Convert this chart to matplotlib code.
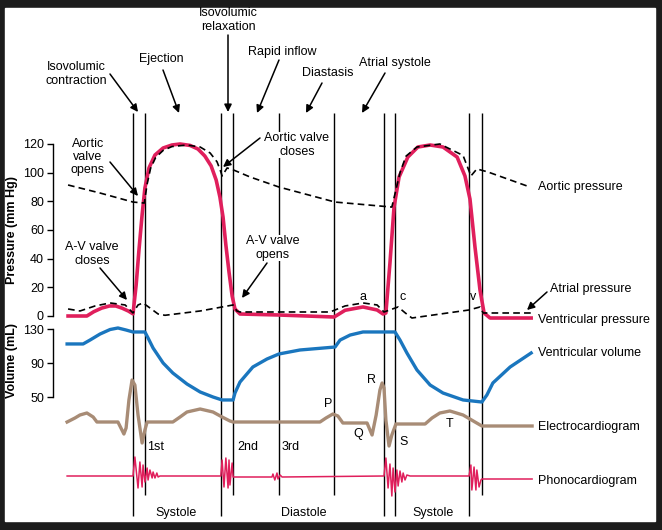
import matplotlib
matplotlib.use('Agg')
import matplotlib.pyplot as plt
from matplotlib.patches import Rectangle

plt.rcParams['font.family'] = ['Liberation Sans', 'DejaVu Sans']

# %% Data  (time in ms, 0 = first A-V valve closure)
event_times = [0, 38, 280, 319, 465, 641, 800, 835, 1071, 1112]
event_long = [True, False, True, False, False, False, True, True, True, False]

vent_p_t = [-207, -147, -125, -100, -75, -55, -35, -15, 0,
            10, 19, 29, 38, 51, 70, 96, 124, 150,
            182, 207, 229, 249, 265, 277, 287, 296, 306, 316, 325, 341, 465, 641,
            676, 733, 778, 797,
            806, 819, 832, 848, 876, 908, 947, 988, 1033, 1058, 1074, 1090, 1106, 1119, 1138, 1269]
vent_p = [0, 0, 3, 5.5, 7, 7, 5.5, 3.5, 1.5,
          21.6, 46, 70.5, 89.3, 103.3, 112.3, 117.2, 119.3, 120,
          119, 116.5, 111.6, 104.7, 94.9, 83, 69, 49.5, 30.7, 14, 4.9, 1.4, 0.7, -0.7,
          4, 6.3, 4.2, 1.4,
          2.1, 37, 76, 97, 110.9, 117.9, 119.3, 117.9, 110.9, 97.7, 81.6, 48.1, 18.1, 2.1, -1.4, -1.4]

atrial_t = [-207, -169, -121, -73, -25, 0, 16, 32, 54, 80, 102, 214, 319, 331, 341, 628,
            676, 733, 778, 800, 845, 868, 889, 1071, 1106, 1116, 1269]
atrial_p = [4.9, 3.5, 7, 9.1, 7.7, 2.1, 7.7, 9.1, 5.6, 1.4, 0.5, 3.5, 7.7, 3.5, 2.8, 2.8,
            7, 9.1, 7.7, 2.8, 6.3, 2.1, -1.4, 4.2, 6.3, 2.1, 2.1]

aortic_t = [-207, -105, 0, 36, 45, 56, 72, 96, 124, 172, 214, 246, 268, 280, 284, 300, 319, 373, 465,
            644,
            825, 838, 851, 870, 905, 978, 1052, 1071, 1077, 1096, 1131, 1265]
aortic_p = [91.4, 85.8, 79.5, 78.8, 92, 103, 110.5, 115.5, 118.2, 119.3, 117.9, 113.7, 107.5, 100.5,
            97.7, 103.3, 102, 97, 90, 79.5,
            76, 88, 100, 111.5, 117.9, 120, 112, 101.2, 97.7, 102.6, 100.5, 90]

volume_t = [-210, -159, -137, -105, -73, -48, -22, 0, 38, 48, 64, 96, 127, 172, 214, 255, 284, 319,
            325, 341, 382, 427, 465, 532, 644,
            660, 692, 733, 800, 835, 851, 873, 905, 947, 988, 1052, 1112, 1128, 1147, 1202, 1269]
volume_ml = [112.4, 112.4, 117, 124.1, 129.4, 131.2, 128.8, 126.5, 126.5, 119.4, 107.6, 90, 78.2, 65.3,
             55.9, 50, 46.5, 46.5,
             54.7, 67.6, 85.3, 94.7, 100.6, 105.3, 108.8,
             117, 122.9, 126.5, 126.5, 126.5, 117, 101.8, 81.8, 64.1, 54.7, 46.5, 44.1, 52.4, 66.5, 85.3,
             101.8]

ecg_t = [-210, -185, -169, -147, -127, -115, -48, -29, -22, -13, -3, 6, 16, 29, 38, 45,
         127, 150, 172, 214, 255, 284, 309, 319, 596, 615, 637, 653, 669, 746, 762, 775, 787, 794,
         800, 806, 816, 825, 838, 931, 953, 978, 1010, 1052, 1090, 1112, 1272]
ecg_mv = [0, 0.1, 0.175, 0.225, 0.125, 0, 0, -0.3, -0.15, 0.55, 1.05, 0.925, 0.175, -0.525, -0.2, 0,
          0, 0.125, 0.25, 0.325, 0.25, 0.125, 0.025, 0, 0, 0.1, 0.2, 0.15, -0.025, -0.025, -0.325,
          0.175, 0.8, 0.975, 0.85, 0.05, -0.6, -0.325, -0.05, -0.05, 0.1, 0.225, 0.275, 0.175, 0,
          -0.1, -0.1]

phono_t = [-210, 0, 6, 16, 22, 29, 32, 38, 45, 48, 54, 61, 64, 70, 76, 80, 86,
           280, 284, 290, 296, 303, 306, 309, 316, 319,
           443, 446, 452, 459, 462, 469, 475,
           800, 806, 813, 819, 825, 829, 835, 841, 845, 851, 857, 861, 867, 873, 883,
           1071, 1077, 1080, 1087, 1093, 1096, 1103, 1109, 1112, 1272]
phono_a = [0, 0, 0.95, -0.6, 0.7, -0.55, 0.55, -0.3, 0.4, -0.2, 0.3, -0.1, 0.2, -0.1, 0.15, -0.05, 0,
           0, 0.8, -0.55, 0.9, -0.6, 0.8, -0.45, 0.65, -0.05,
           -0.05, 0.1, -0.2, 0.15, -0.15, 0.05, -0.05,
           0, 0.9, -0.6, 0.6, -1.0, 0.4, -0.8, 0.3, -0.5, 0.25, -0.3, 0.15, -0.2, 0.05, 0,
           0, 0.55, -0.7, 0.45, -0.7, 0.3, -0.55, -0.2, -0.15, -0.15]

# %% Layout helpers
W, H = 662, 530
PX_PER_MS = 0.31375
T0_PX = 133
RED = '#e01f5c'
BLUE = '#1a76be'
TAN = '#a88c76'
FS = 9

fig = plt.figure(figsize=(W / 100, H / 100), dpi=100, facecolor='#1c1c1c')
fig.patches.append(Rectangle((5 / W, 1 - 521 / H), 650 / W, 513 / H,
                             transform=fig.transFigure, color='white', zorder=-1))


def layer(v_a, px_a, v_b, px_b, pixel_x=False):
    ax = fig.add_axes([0, 0, 1, 1])
    ax.patch.set_visible(False)
    s = (px_b - px_a) / (v_b - v_a)
    if pixel_x:
        ax.set_xlim(0, W)
    else:
        ax.set_xlim(-T0_PX / PX_PER_MS, (W - T0_PX) / PX_PER_MS)
    ax.set_ylim(v_a + (H - px_a) / s, v_a - px_a / s)
    for sp in ax.spines.values():
        sp.set_visible(False)
    ax.set_xticks([])
    ax.set_yticks([])
    return ax


def left_axis(ax, lo, hi, ticks):
    sp = ax.spines['left']
    sp.set_visible(True)
    sp.set_position(('axes', 53 / W))
    sp.set_bounds(lo, hi)
    sp.set_linewidth(1.0)
    ax.set_yticks(ticks)
    ax.tick_params(axis='y', direction='out', length=4.5, width=1.0, labelsize=FS, pad=2)


# event lines: time on x, pixels on y
evt = layer(0, 0, H, H)
for t, long_line in zip(event_times, event_long):
    evt.vlines(t, 113, 516 if long_line else 495, color='black', lw=1.0, zorder=1)

# pressure
axp = layer(0, 316, 120, 144)
left_axis(axp, 0, 120, range(0, 121, 20))
axp.plot(aortic_t, aortic_p, color='black', lw=1.2, ls=(0, (4, 2.5)), zorder=4)
axp.plot(atrial_t, atrial_p, color='black', lw=1.2, ls=(0, (4, 2.5)), zorder=4)
axp.plot(vent_p_t, vent_p, color=RED, lw=2.6, zorder=3, solid_joinstyle='round')

# volume
axv = layer(50, 397, 130, 329)
left_axis(axv, 50, 130, [50, 90, 130])
axv.plot(volume_t, volume_ml, color=BLUE, lw=2.4, zorder=3, solid_joinstyle='round')

# ECG
axe = layer(0, 422, 1, 382)
axe.plot(ecg_t, ecg_mv, color=TAN, lw=2.4, zorder=3, solid_joinstyle='round')

# phonocardiogram
axf = layer(0, 476, 1, 456)
axf.plot(phono_t, phono_a, color=RED, lw=1.1, zorder=3)

# annotation layer, pixel units on both axes
ann = layer(0, 0, H, H, pixel_x=True)


# %% Text
def label(x, y, s, ha='center', box=False, **kw):
    bb = dict(facecolor='white', edgecolor='none', pad=0.5) if box else None
    ann.text(x, y, s, ha=ha, va='center', fontsize=FS, linespacing=1.15, bbox=bb, zorder=5, **kw)


def arrow(tail, tip):
    ann.annotate('', xy=tip, xytext=tail, zorder=5,
                 arrowprops=dict(arrowstyle='-|>', color='black', lw=1.1,
                                 mutation_scale=11, shrinkA=0, shrinkB=0))


label(76, 74, 'Isovolumic\ncontraction')
arrow((110, 74), (138, 112))
label(161, 59, 'Ejection')
arrow((163, 70), (179, 113))
label(228, 20, 'Isovolumic\nrelaxation')
arrow((228, 35), (228, 112))
label(282, 52, 'Rapid inflow')
arrow((279, 60), (257, 113))
label(328, 73, 'Diastasis')
arrow((322, 83), (306, 113))
label(395, 63, 'Atrial systole')
arrow((385, 73), (362, 113))

label(88, 157, 'Aortic\nvalve\nopens')
arrow((110, 162), (138, 196))
label(297, 145, 'Aortic valve\ncloses', box=True)
arrow((260, 138), (223, 167))
label(92, 254, 'A-V valve\ncloses')
arrow((100, 268), (127, 300))
label(273, 248, 'A-V valve\nopens', box=True)
arrow((267, 263), (242, 298))

label(363, 297, 'a')
label(403, 297, 'c')
label(473, 297, 'v')

label(538, 187, 'Aortic pressure', ha='left')
label(550, 289, 'Atrial pressure', ha='left')
arrow((547, 292), (527, 310))
label(538, 320, 'Ventricular pressure', ha='left')
label(538, 353, 'Ventricular volume', ha='left')
label(538, 427, 'Electrocardiogram', ha='left')
label(538, 481, 'Phonocardiogram', ha='left')

label(328, 404, 'P')
label(358, 434, 'Q')
label(372, 380, 'R')
label(404, 442, 'S')
label(450, 424, 'T')

label(147, 447, '1st', ha='left')
label(237, 447, '2nd', ha='left')
label(282, 447, '3rd', ha='left')

label(176, 513, 'Systole')
label(304, 513, 'Diastole')
label(433, 513, 'Systole')

ann.text(12, 230, 'Pressure (mm Hg)', rotation=90, ha='center', va='center',
         fontsize=FS, fontweight='bold')
ann.text(12, 361, 'Volume (mL)', rotation=90, ha='center', va='center',
         fontsize=FS, fontweight='bold')

fig.savefig('out.png', dpi=100, facecolor=fig.get_facecolor())
